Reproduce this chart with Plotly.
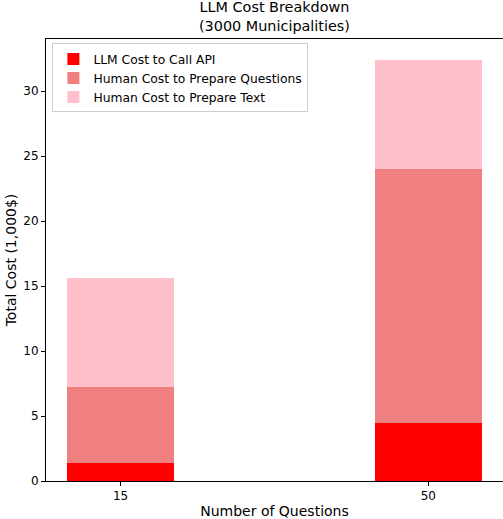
import plotly.graph_objects as go

categories = ["15", "50"]
llm_cost = [1.35, 4.5]
human_questions = [5.85, 19.5]
human_text = [8.4, 8.4]
series_names = ["LLM Cost to Call API", "Human Cost to Prepare Questions", "Human Cost to Prepare Text"]
colors = ["red", "#F08080", "#FFC0CB"]

x = list(range(len(categories)))
font = "DejaVu Sans"

fig = go.Figure()
for name, vals, c in zip(series_names, [llm_cost, human_questions, human_text], colors):
    fig.add_trace(go.Bar(x=x, y=vals, name=name, width=0.35,
                         marker=dict(color=c, line=dict(width=0))))

fig.add_annotation(text="LLM Cost Breakdown<br>(3000 Municipalities)",
                   xref="paper", yref="paper", x=0.5, y=1, xanchor="center",
                   yanchor="bottom", yshift=3, showarrow=False,
                   font=dict(size=14.4, family=font, color="black"))

fig.update_layout(
    width=503, height=519,
    margin=dict(l=46, r=0, t=39, b=38),
    barmode="stack",
    plot_bgcolor="white", paper_bgcolor="white",
    font=dict(family=font, size=12, color="black"),
    legend=dict(x=0.014, y=0.990, xanchor="left", yanchor="top",
                traceorder="normal", bordercolor="#cccccc", borderwidth=1,
                bgcolor="rgba(255,255,255,0.8)", font=dict(size=12.3),
                itemsizing="constant", tracegroupgap=0),
    xaxis=dict(range=[-0.2425, 1.2425], tickvals=x, ticktext=categories,
               showline=True, linecolor="black", linewidth=1, mirror=True,
               ticks="outside", ticklen=4, tickcolor="black", showgrid=False,
               zeroline=False,
               title=dict(text="Number of Questions", standoff=4)),
    yaxis=dict(range=[0, 34.02], tickvals=[0, 5, 10, 15, 20, 25, 30],
               showline=True, linecolor="black", linewidth=1, mirror=True,
               ticks="outside", ticklen=4, tickcolor="black", showgrid=False,
               zeroline=False,
               title=dict(text="Total Cost (1,000$)", standoff=3)),
)

fig.write_html("out.html", config={"displayModeBar": False})

with open("out.html", "r", encoding="utf-8") as f:
    html = f.read()
html = html.replace("<head>", "<head><style>html,body{margin:0;padding:0;overflow:hidden;}</style>", 1)
with open("out.html", "w", encoding="utf-8") as f:
    f.write(html)
